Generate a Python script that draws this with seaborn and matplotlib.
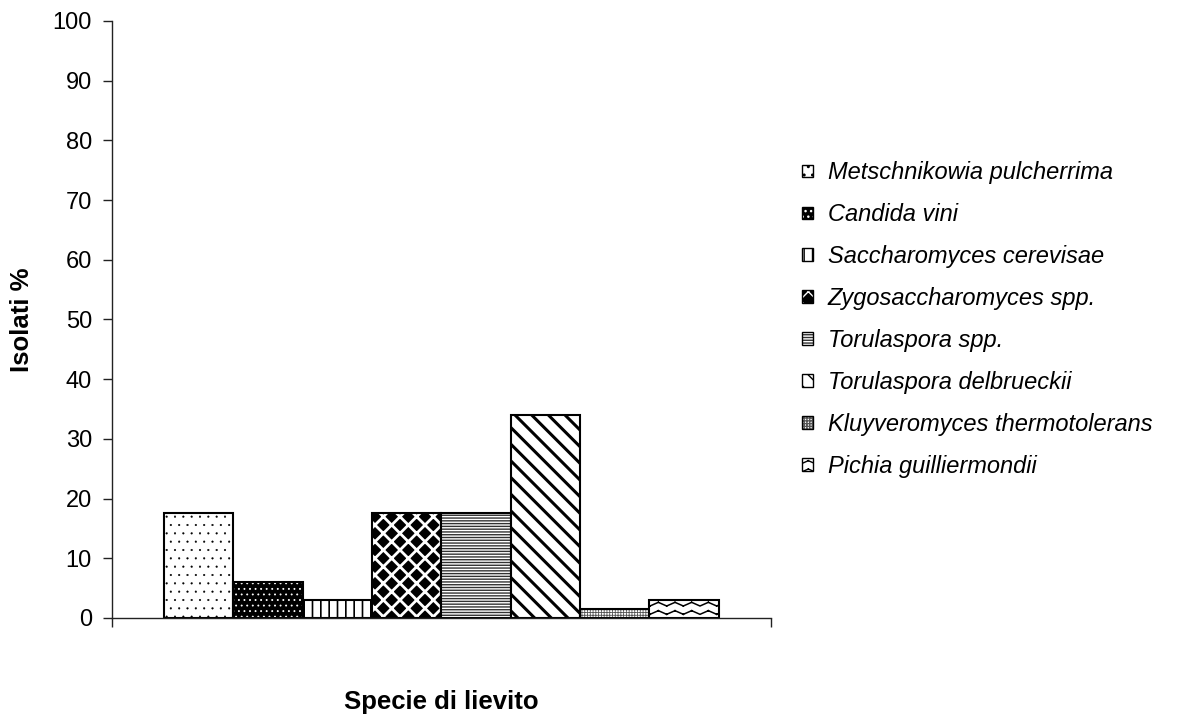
import matplotlib
matplotlib.use("Agg")
import matplotlib.pyplot as plt
import matplotlib.hatch as mhatch
from matplotlib.path import Path
from matplotlib.patches import Patch
import seaborn as sns
import pandas as pd

species = [
    "Metschnikowia pulcherrima",
    "Candida vini",
    "Saccharomyces cerevisae",
    "Zygosaccharomyces spp.",
    "Torulaspora spp.",
    "Torulaspora delbrueckii",
    "Kluyveromyces thermotolerans",
    "Pichia guilliermondii",
]
isolati = [17.6, 6.0, 3.0, 17.6, 17.6, 34.0, 1.5, 3.0]
y_ticks = list(range(0, 101, 10))


class ZigZagHatch(mhatch.HatchPatternBase):
    """Wavy zig-zag fill, selected with the letter 'z'."""

    def __init__(self, hatch, density):
        self.rows = hatch.count("z") * density
        self.cols = max(self.rows // 2, 1) if self.rows else 0
        self.num_vertices = self.rows * self.cols * 4

    def set_vertices_and_codes(self, vertices, codes):
        amp = 0.22 / self.rows
        k = 0
        for i in range(self.rows):
            yc = (i + 0.5) / self.rows
            for j in range(self.cols):
                x0 = j / self.cols
                x1 = (j + 0.5) / self.cols
                x2 = (j + 1) / self.cols
                for (xa, ya, xb, yb) in ((x0, yc - amp, x1, yc + amp),
                                         (x1, yc + amp, x2, yc - amp)):
                    vertices[k] = (xa, ya)
                    vertices[k + 1] = (xb, yb)
                    codes[k] = Path.MOVETO
                    codes[k + 1] = Path.LINETO
                    k += 2


mhatch._hatch_types.append(ZigZagHatch)

# fill style per species: (hatch, face colour, hatch colour, hatch line width)
styles = [
    ("..", "white", "black", 0.3),
    ("...", "black", "white", 0.6),
    ("||", "white", "black", 1.2),
    ("xx", "black", "white", 2.0),
    ("------", "white", "#333333", 1.0),
    ("\\\\", "white", "black", 2.2),
    ("++++++", "white", "#555555", 0.6),
    ("zz", "white", "black", 1.1),
]

sns.set_theme(style="white")
plt.rcParams["font.family"] = ["Liberation Sans", "DejaVu Sans"]
plt.rcParams["text.color"] = "black"
plt.rcParams["axes.labelcolor"] = "black"
plt.rcParams["xtick.color"] = "black"
plt.rcParams["ytick.color"] = "black"

fig = plt.figure(figsize=(11.97, 7.16), dpi=100)
ax = fig.add_axes([0.0936, 0.1369, 0.5505, 0.8338])

df = pd.DataFrame({"specie": species, "isolati": isolati})
sns.barplot(data=df, x="specie", y="isolati", order=species, width=1.0,
            color="white", saturation=1, ax=ax)


def apply_style(p, st, lw=1.5):
    hatch, face, hcol, hlw = st
    p.set_facecolor(face)
    p.set_edgecolor("black")
    p.set_linewidth(lw)
    p.set_hatch(hatch)
    p._hatch_color = matplotlib.colors.to_rgba(hcol)
    if hasattr(p, "set_hatch_linewidth"):
        p.set_hatch_linewidth(hlw)
    else:
        p._hatch_linewidth = hlw


for p, st in zip(ax.patches, styles):
    apply_style(p, st)

ax.set_ylim(0, 100)
ax.set_yticks(y_ticks)
ax.set_yticklabels([str(v) for v in y_ticks], fontsize=17)
ax.set_xlim(-1.25, 8.255)
ax.set_xticks([-1.25, 8.255])
ax.set_xticklabels(["", ""])
ax.tick_params(axis="both", direction="out", length=6.5, width=1,
               color="#222222", left=True, bottom=True, pad=8)

for side in ("top", "right"):
    ax.spines[side].set_visible(False)
for side in ("left", "bottom"):
    ax.spines[side].set_color("#222222")
    ax.spines[side].set_linewidth(1.0)

ax.set_ylabel("Isolati %", fontsize=18.5, fontweight="bold", labelpad=13)
ax.set_xlabel("Specie di lievito", fontsize=18.5, fontweight="bold", labelpad=37)

handles = []
for name, st in zip(species, styles):
    h = Patch(label=name)
    apply_style(h, st, lw=1.0)
    handles.append(h)

leg = ax.legend(handles=handles, loc="center left", bbox_to_anchor=(1.015, 0.50),
                frameon=False, prop={"size": 17, "style": "italic"},
                handlelength=0.45, handleheight=0.45, handletextpad=0.64,
                labelspacing=0.80)

fig.savefig("out.png", dpi=100, facecolor="white")
